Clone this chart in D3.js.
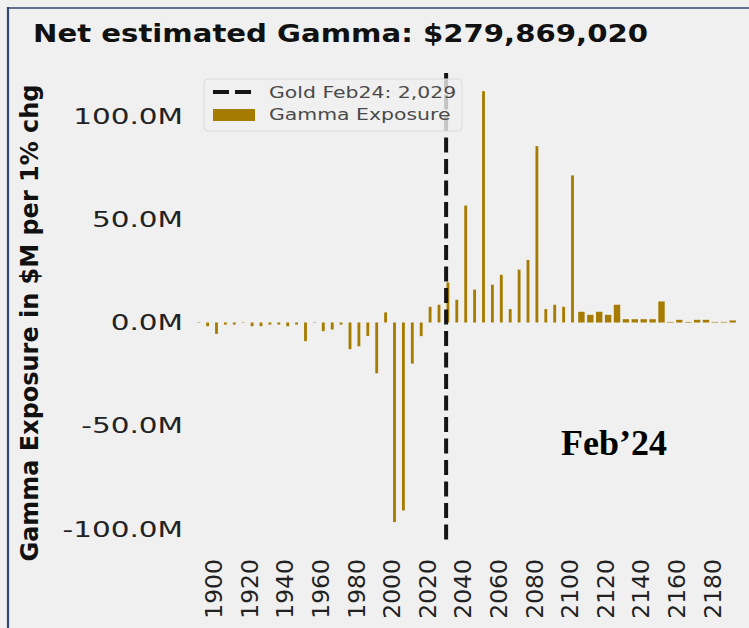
<!DOCTYPE html>
<html><head><meta charset="utf-8">
<script src="https://cdn.jsdelivr.net/npm/d3@7"></script>
<style>
html,body{margin:0;padding:0;background:#f0f0f0;}
svg{display:block;}
</style></head>
<body>
<svg id="chart" width="749" height="628"></svg>
<script>
// ---- data ----
const strikes = [1890,1895,1900,1905,1910,1915,1920,1925,1930,1935,1940,1945,1950,1955,1960,1965,1970,1975,1980,1985,
  1990,1995,2000,2005,2010,2015,2020,2025,2030,2035,2040,2045,2050,2055,2060,2065,2070,2075,2080,2085,
  2090,2095,2100,2105,2110,2115,2120,2125,2130,2135,2140,2145,2150,2155,2160,2165,2170,2175,2180,2185,2190];
const gammaM = [0.2,-1.8,-5.5,-1.0,-1.0,0.2,-1.8,-1.8,-1.0,-1.0,-1.8,-1.0,-9.0,-0.2,-4.2,-3.4,-1.0,-12.9,-11.5,-6.5,
  -24.6,4.9,-96.6,-91.0,-19.9,-6.6,7.6,8.6,19.4,11.0,56.6,15.9,112.0,18.3,23.1,6.5,25.6,30.3,85.4,6.5,
  8.6,7.6,71.2,5.2,3.7,5.2,3.7,8.6,1.6,1.6,1.6,1.6,10.2,0.3,1.3,0.3,1.3,1.3,0.3,0.3,1.0];
const yTickValues = [-100,-50,0,50,100];
const xTickValues = [1900,1920,1940,1960,1980,2000,2020,2040,2060,2080,2100,2120,2140,2160,2180];
const spotPrice = 2029;
const titleText = "Net estimated Gamma: $279,869,020";
const yAxisTitle = "Gamma Exposure in $M per 1% chg";
const legendLabels = ["Gold Feb24: 2,029", "Gamma Exposure"];
const noteText = "Feb\u201924";

// ---- layout ----
const svg = d3.select("#chart");
const W = 749, H = 628;
const plotTop = 73, plotBottom = 540;
const barColor = "#a67c00";
const sansFont = "'DejaVu Sans', Verdana, sans-serif";

svg.append("rect").attr("x",0).attr("y",0).attr("width",W).attr("height",H).attr("fill","#f0f0f0");

const x = d3.scaleLinear().domain([1885, 2200]).range([216.5 - 15*1.78, 216.5 + 300*1.78]);
const y = d3.scaleLinear().domain([-105.3, 120.8]).range([plotBottom, plotTop]);

// stretch helper: widen text horizontally (like the reference rendering)
function stretch(sel, factor){
  sel.each(function(){
    const w = this.getComputedTextLength();
    d3.select(this).attr("textLength", w*factor).attr("lengthAdjust","spacingAndGlyphs");
  });
}

// frame lines
svg.append("line").attr("x1",8).attr("x2",8).attr("y1",7).attr("y2",H)
  .attr("stroke","#34466e").attr("stroke-width",2.2);
svg.append("line").attr("x1",7).attr("x2",W).attr("y1",8).attr("y2",8)
  .attr("stroke","#34466e").attr("stroke-width",1.6);

// title
const title = svg.append("text").attr("x",33).attr("y",42)
  .attr("font-family",sansFont).attr("font-weight","bold").attr("font-size",25)
  .attr("fill","#111").text(titleText);
title.attr("textLength",615).attr("lengthAdjust","spacingAndGlyphs");

// y axis
const yAxis = svg.append("g").attr("transform","translate(189,0)")
  .call(d3.axisLeft(y).tickValues(yTickValues).tickSize(0).tickPadding(6)
    .tickFormat(d => d.toFixed(1) + "M"));
yAxis.select(".domain").remove();
yAxis.selectAll("text").attr("font-family",sansFont).attr("font-size",22)
  .attr("fill","#222").attr("x",-6);
stretch(yAxis.selectAll("text"), 1.34);

// x axis
const xAxis = svg.append("g").attr("transform",`translate(0,${plotBottom})`)
  .call(d3.axisBottom(x).tickValues(xTickValues).tickSize(0).tickFormat(d => String(d)));
xAxis.select(".domain").remove();
xAxis.selectAll("text")
  .attr("font-family",sansFont).attr("font-size",23.5).attr("fill","#222")
  .attr("text-anchor","end").attr("y",0).attr("x",0).attr("dy","0.35em")
  .attr("transform","translate(-3,19) rotate(-90)");

// y axis title
svg.append("text").attr("transform","translate(38,323) rotate(-90)")
  .attr("text-anchor","middle").attr("font-family",sansFont).attr("font-weight","bold")
  .attr("font-size",24).attr("fill","#111").attr("textLength",477).attr("lengthAdjust","spacingAndGlyphs")
  .text(yAxisTitle);

// bars
const data = strikes.map((s,i) => ({strike:s, value:gammaM[i]}));
const barW = s => (s > 2100 ? 3.6 : 1.6);
svg.append("g").selectAll("rect").data(data).join("rect")
  .attr("x", d => x(d.strike - barW(d.strike)/2))
  .attr("width", d => x(d.strike + barW(d.strike)/2) - x(d.strike - barW(d.strike)/2))
  .attr("y", d => y(Math.max(0, d.value)))
  .attr("height", d => Math.abs(y(d.value) - y(0)))
  .attr("fill", barColor);

// spot line
svg.append("line").attr("x1",x(spotPrice)).attr("x2",x(spotPrice))
  .attr("y1",plotTop).attr("y2",plotBottom)
  .attr("stroke","#151515").attr("stroke-width",4).attr("stroke-dasharray","15,6.5");

// legend
const lg = svg.append("g");
lg.append("rect").attr("x",204).attr("y",79).attr("width",258).attr("height",52).attr("rx",4)
  .attr("fill","#f0f0f0").attr("fill-opacity",0.8).attr("stroke","#dadada").attr("stroke-width",1);
lg.append("line").attr("x1",213).attr("x2",255).attr("y1",92).attr("y2",92)
  .attr("stroke","#151515").attr("stroke-width",4).attr("stroke-dasharray","16,6");
lg.append("rect").attr("x",213).attr("y",109).attr("width",42).attr("height",12).attr("fill",barColor);
const lt = lg.selectAll("text.lab").data(legendLabels).join("text").attr("class","lab")
  .attr("x",269).attr("y",(d,i) => 97.5 + i*22)
  .attr("font-family",sansFont).attr("font-size",15).attr("fill","#4a4a4a").text(d => d);
stretch(lt, 1.36);

// note
svg.append("text").attr("x",561).attr("y",455)
  .attr("font-family","'Liberation Serif','Times New Roman',serif").attr("font-weight","bold")
  .attr("font-size",36).attr("fill","#000").text(noteText);
</script>
</body></html>
